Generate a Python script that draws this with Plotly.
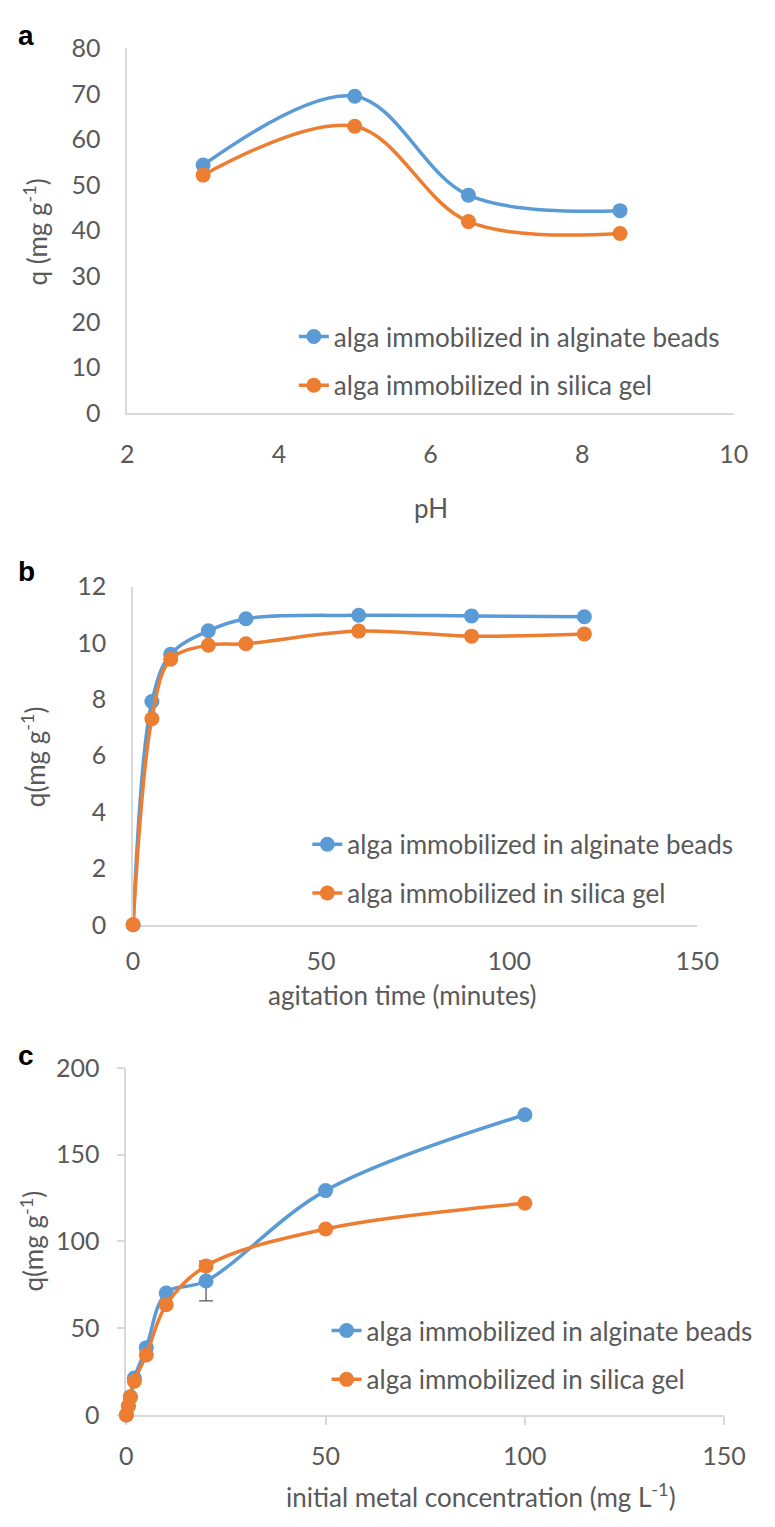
import plotly.graph_objects as go

# ---------------- data ----------------
ph = [3, 5, 6.5, 8.5]
q_ph_alginate = [54.4, 69.5, 47.8, 44.4]
q_ph_silica = [52.2, 62.9, 42.0, 39.4]

time_min = [0, 5, 10, 20, 30, 60, 90, 120]
q_t_alginate = [0, 7.92, 9.6, 10.43, 10.86, 10.98, 10.96, 10.93]
q_t_silica = [0, 7.31, 9.42, 9.92, 9.97, 10.42, 10.24, 10.32]

conc = [0, 0.5, 1, 2, 5, 10, 20, 50, 100]
q_c_alginate = [0, 5.2, 10.5, 21.3, 38.8, 70.3, 77.2, 129.3, 173.0]
q_c_alginate_err = [0, 0, 0, 0, 0, 0, 11.5, 0, 0]
q_c_silica = [0, 5.0, 10.3, 19.4, 34.6, 63.5, 85.9, 107.2, 122.0]

name_a = "alga immobilized in alginate beads"
name_s = "alga immobilized in silica gel"

# ---------------- style ----------------
W, H = 775, 1527
BLUE = "#5B9BD5"
ORANGE = "#ED7D31"
TXT = "#595959"
AXC = "#D9D9D9"
FONT = "Lato"
FS = 26
TFS = 25


def px(x):
    return x / W


def py(y):
    return 1 - y / H


fig = go.Figure()

panels = [
    dict(x=ph, ya=q_ph_alginate, ys=q_ph_silica, err=None, xa="x", yaxis="y", leg="legend"),
    dict(x=time_min, ya=q_t_alginate, ys=q_t_silica, err=None, xa="x2", yaxis="y2", leg="legend2"),
    dict(x=conc, ya=q_c_alginate, ys=q_c_silica, err=q_c_alginate_err, xa="x3", yaxis="y3", leg="legend3"),
]

for p in panels:
    fig.add_trace(go.Scatter(
        x=p["x"], y=p["ya"], name=name_a, mode="lines+markers", cliponaxis=False,
        line=dict(color=BLUE, width=3.5, shape="spline", smoothing=1.0),
        marker=dict(color=BLUE, size=15),
        error_y=(dict(type="data", array=p["err"], visible=True, color=TXT,
                      thickness=1.3, width=7) if p["err"] else None),
        xaxis=p["xa"], yaxis=p["yaxis"], legend=p["leg"], legendgroup="a" + p["leg"],
    ))
    fig.add_trace(go.Scatter(
        x=p["x"], y=p["ys"], name=name_s, mode="lines+markers", cliponaxis=False,
        line=dict(color=ORANGE, width=3.5, shape="spline", smoothing=1.0),
        marker=dict(color=ORANGE, size=15),
        xaxis=p["xa"], yaxis=p["yaxis"], legend=p["leg"], legendgroup="s" + p["leg"],
    ))

axis_common = dict(showgrid=False, zeroline=False, showline=True, linecolor=AXC,
                   linewidth=1.5, tickfont=dict(family=FONT, size=TFS, color=TXT),
                   fixedrange=True, layer="below traces")
y_std = dict(ticklabelstandoff=20, **axis_common)
tk = dict(ticks="outside", ticklen=8, tickcolor=AXC, tickwidth=1.5)

fig.update_layout(
    xaxis=dict(domain=[px(125), px(755)], range=[2, 10], dtick=2, anchor="y", ticks="",
               ticklabelstandoff=18, **axis_common),
    yaxis=dict(domain=[py(405), py(33)], range=[0, 80], dtick=10, anchor="x", ticks="", **y_std),
    xaxis2=dict(domain=[px(131), px(717)], range=[0, 150], dtick=50, anchor="y2", ticks="",
                ticklabelstandoff=13, **axis_common),
    yaxis2=dict(domain=[py(927), py(582)], range=[0, 12], dtick=2, anchor="x2", ticks="", **y_std),
    xaxis3=dict(domain=[px(124), px(745)], range=[0, 150], dtick=50, anchor="y3",
                ticklabelstandoff=10, **axis_common, **tk),
    yaxis3=dict(domain=[py(1427), py(1073)], range=[0, 200], dtick=50, anchor="x3",
                ticklabelstandoff=12, **axis_common, **tk),
)

leg_common = dict(font=dict(family=FONT, size=FS, color=TXT), bgcolor="rgba(0,0,0,0)",
                  xanchor="left", yanchor="top", tracegroupgap=12, traceorder="grouped")
fig.update_layout(
    legend=dict(x=px(298), y=py(303), **leg_common),
    legend2=dict(x=px(312), y=py(821), **leg_common),
    legend3=dict(x=px(332), y=py(1317), **leg_common),
)

ann = []
for letter, (x, y) in zip("abc", [(20, 20), (20, 567), (20, 1060)]):
    ann.append(dict(text="<b>%s</b>" % letter, x=px(x), y=py(y), xref="paper", yref="paper",
                    showarrow=False, font=dict(family="Liberation Sans", size=28, color="black"),
                    xanchor="center", yanchor="middle"))

titles = [
    ("q (mg g<sup>-1</sup>)", 30, 220, -90),
    ("pH", 440, 502, 0),
    ("q(mg g<sup>-1</sup>)", 27, 755, -90),
    ("agitation time (minutes)", 410, 999, 0),
    ("q(mg g<sup>-1</sup>)", 26, 1250, -90),
    ("initial metal concentration (mg L<sup>-1</sup>)", 492, 1509, 0),
]
for t, x, y, ang in titles:
    ann.append(dict(text=t, x=px(x), y=py(y), xref="paper", yref="paper", showarrow=False,
                    textangle=ang, font=dict(family=FONT, size=FS, color=TXT),
                    xanchor="center", yanchor="middle"))

fig.update_layout(
    width=W, height=H, margin=dict(l=0, r=0, t=0, b=0),
    paper_bgcolor="white", plot_bgcolor="white",
    font=dict(family=FONT, color=TXT),
    annotations=ann,
)

fig.write_html("out.html", config={"displayModeBar": False})
